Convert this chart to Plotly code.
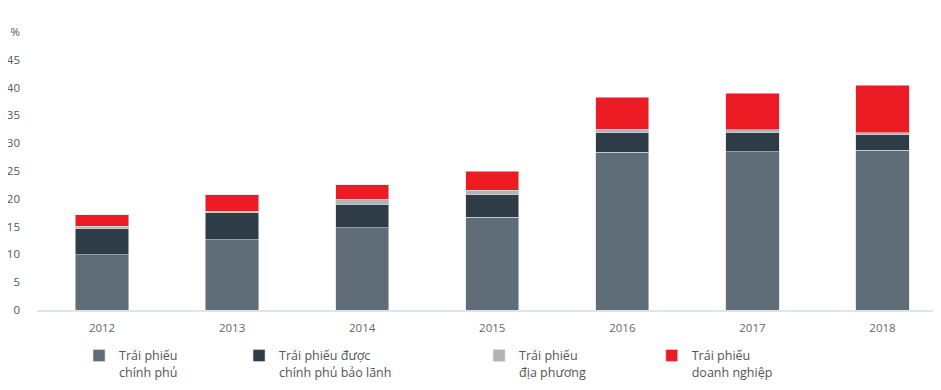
import plotly.graph_objects as go

years = ["2012", "2013", "2014", "2015", "2016", "2017", "2018"]
gov = [9.9, 12.6, 14.8, 16.7, 28.4, 28.5, 28.7]
guaranteed = [4.7, 4.9, 4.2, 4.05, 3.5, 3.4, 2.8]
local = [0.45, 0.25, 0.9, 0.75, 0.6, 0.5, 0.4]
corporate = [2.05, 3.0, 2.6, 3.5, 5.8, 6.6, 8.5]

names = ["Trái phiếu<br>chính phủ", "Trái phiếu được<br>chính phủ bảo lãnh",
         "Trái phiếu<br>địa phương", "Trái phiếu<br>doanh nghiệp"]
colors = ["#5f6d78", "#2e3c48", "#b1b4b7", "#ed1c24"]
series = [gov, guaranteed, local, corporate]
legend_x = [0.0465, 0.2235, 0.489, 0.680]

fig = go.Figure()
for i, (nm, col, vals) in enumerate(zip(names, colors, series)):
    lg = "legend" if i == 0 else f"legend{i+1}"
    fig.add_trace(go.Bar(x=years, y=vals, name=nm,
                         marker=dict(color=col, line=dict(color="#d8dcdf", width=0.6)),
                         width=0.41, legend=lg))

legend_common = dict(orientation="v", y=-0.111, yanchor="top", xanchor="left",
                     font=dict(family="Open Sans", size=12.5, color="#555555"),
                     bgcolor="rgba(0,0,0,0)", valign="top", itemwidth=30, tracegroupgap=0)
layout_legends = {}
for i, lx in enumerate(legend_x):
    key = "legend" if i == 0 else f"legend{i+1}"
    layout_legends[key] = dict(x=lx, **legend_common)

fig.update_layout(
    barmode="stack",
    width=933, height=382,
    margin=dict(l=29, r=0, t=24, b=79.5, autoexpand=False),
    paper_bgcolor="white", plot_bgcolor="white",
    showlegend=True,
    xaxis=dict(showgrid=False, showline=True, linecolor="#dfe4e7", linewidth=1.5,
               range=[-0.5, 6.45], automargin=False,
               ticks="", ticklabelstandoff=6,
               tickfont=dict(family="Open Sans", size=11.5, color="#666666")),
    yaxis=dict(range=[0, 50], tickvals=[0, 5, 10, 15, 20, 25, 30, 35, 40, 45, 50],
               ticktext=["0", "5", "10", "15", "20", "25", "30", "35", "40", "45", "%"],
               showgrid=False, zeroline=False, showline=False, ticks="", automargin=False,
               tickfont=dict(family="Open Sans", size=11.5, color="#555555"), ticklabelstandoff=16),
    **layout_legends,
)

fig.write_html("out.html")
